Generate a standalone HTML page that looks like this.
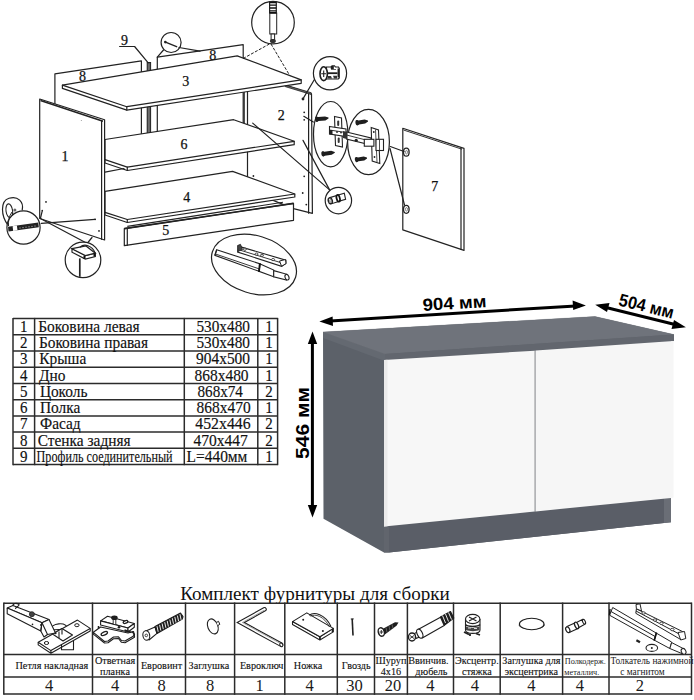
<!DOCTYPE html>
<html><head><meta charset="utf-8">
<style>
html,body{margin:0;padding:0;background:#fff;width:694px;height:700px;overflow:hidden}
svg{position:absolute;left:0;top:0}
.tl{stroke:#2b2b2b;stroke-width:1.5}
.ts{font-family:"Liberation Serif",serif;font-size:15px;fill:#111;stroke:#111;stroke-width:0.15}
.tn{font-family:"Liberation Serif",serif;font-size:15.4px;fill:#111;stroke:#111;stroke-width:0.15}
.tb{font-family:"Liberation Serif",serif;font-size:10.2px;fill:#111;stroke:#111;stroke-width:0.12}
.tl1{font-family:"Liberation Serif",serif;font-size:8.2px;fill:#1a1a1a}
.tl2{font-family:"Liberation Serif",serif;font-size:9.3px;fill:#1a1a1a}
.tq{font-family:"Liberation Serif",serif;font-size:16.5px;fill:#1a1a1a}
.dim{font-family:"Liberation Sans",sans-serif;font-weight:bold;font-size:17.5px;fill:#000}
.d{stroke:#222;stroke-width:1.2;fill:none;stroke-linejoin:round;stroke-linecap:round}
.df{stroke:#222;stroke-width:1.2;fill:#fff;stroke-linejoin:round}
.lab{font-family:"Liberation Serif",serif;font-size:14px;fill:#111;stroke:#111;stroke-width:0.25}
</style></head><body>
<svg width="694" height="700" viewBox="0 0 694 700">
<g id="diagram">
<!-- back panel 8 left -->
<polygon fill="#fff" points="54.9,73.9 141.4,60.9 141.4,134 54.9,140"/><polyline class="d" points="54.9,140 54.9,73.9 141.4,60.9 141.4,134"/>
<!-- back panel 8 right -->
<polygon fill="#fff" points="157.3,57.2 243.2,44.6 243.2,130 157.3,132"/><polyline class="d" points="157.3,132 157.3,57.2 243.2,44.6 243.2,130"/>
<!-- profile 9 -->
<rect x="147.2" y="62.5" width="3.4" height="71" fill="#555" stroke="#222" stroke-width="1"/>
<line x1="148.9" y1="64" x2="148.9" y2="133" stroke="#999" stroke-width="0.6"/>
<!-- label 9 leader -->
<polyline class="d" points="119.6,46.5 134.6,46.5 148,62.6"/>
<!-- nail circle -->
<circle class="df" cx="171.1" cy="42.5" r="10"/>
<line x1="165.5" y1="42.2" x2="177.2" y2="46.8" stroke="#222" stroke-width="1.4"/><circle cx="165.3" cy="42.1" r="1.3" fill="#222"/>
<line x1="163.5" y1="50" x2="157.3" y2="57.2" class="d"/>
<line x1="179" y1="47.5" x2="200" y2="51.2" class="d"/>
<!-- panel 2 (right side) -->
<polygon class="df" points="247.5,70 286.5,85.6 311.5,93.7 312.4,213.3 293.5,208.6 247.5,190"/>
<path d="M285.4,85 L311.2,92.7 L311.2,94.5 L285.2,86.6 Z" fill="#666" stroke="#222" stroke-width="0.8"/>
<polyline class="d" points="308.6,94 308.6,213.2"/>
<line x1="244.2" y1="86" x2="244.2" y2="123" class="d"/>
<!-- top board 3 -->
<polygon class="df" points="62.4,85.1 237.2,55.9 301.2,79.9 301.2,83.3 126.8,110.1 62.4,88.4"/>
<polyline class="d" points="62.4,85.1 126.8,106.7 301.2,79.9"/>
<line x1="126.8" y1="106.7" x2="126.8" y2="110.1" class="d"/>
<!-- shelf 6 -->
<polygon class="df" points="105,139.5 233.7,119.7 294.2,141.3 294.2,144.7 127.3,170.5 105,163"/>
<polyline class="d" points="105,159.6 127.3,167.1 294.2,141.3"/>
<line x1="105" y1="172.1" x2="124" y2="168.5" class="d"/>
<line x1="127.3" y1="167.1" x2="127.3" y2="170.5" class="d"/>
<!-- bottom board 4 -->
<polygon class="df" points="105,191.3 232.6,171.4 294.8,194 294.8,197 127.3,222.5 105,215"/>
<polyline class="d" points="105,212.4 127.3,219.5 294.8,194"/>
<line x1="127.3" y1="219.5" x2="127.3" y2="222.5" class="d"/>
<!-- plinth 5 -->
<polygon class="df" points="124.3,228.6 293.5,203.4 293.5,220.3 124.3,245.7"/>
<line x1="127.3" y1="226.4" x2="283" y2="202.2" stroke="#222" stroke-width="1.1"/>
<line x1="124.3" y1="228.6" x2="293.5" y2="203.4" stroke="#222" stroke-width="1.6"/>
<line x1="127.3" y1="228.3" x2="127.3" y2="245.3" class="d"/>
<!-- panel 1 (left side) -->
<polygon class="df" points="39.7,99 104.6,119.8 104.6,240 39.7,218.5"/>
<line x1="40.5" y1="100.5" x2="103" y2="121.2" stroke="#222" stroke-width="1.6"/>
<line x1="101.6" y1="120.5" x2="101.6" y2="239.3" class="d"/>
<circle cx="46" cy="201.9" r="0.9" fill="#222"/>
<circle cx="95.1" cy="219.3" r="0.9" fill="#222"/>
<circle cx="99" cy="230.9" r="0.9" fill="#222"/>
<circle cx="42.3" cy="210.6" r="0.8" fill="#222"/>
<circle cx="81.3" cy="120.6" r="0.5" fill="#888"/>
<!-- panel 2 dots -->
<circle cx="303" cy="99" r="1.4" fill="#222"/>
<circle cx="304.2" cy="112.3" r="0.9" fill="#222"/>
<circle cx="304.2" cy="119.8" r="0.9" fill="#222"/>
<circle cx="253.4" cy="176" r="0.9" fill="#222"/>
<circle cx="304.2" cy="176.3" r="0.9" fill="#222"/>
<circle cx="302.7" cy="193" r="0.9" fill="#222"/>
<circle cx="306.3" cy="204.6" r="0.9" fill="#222"/>

<!-- rod circle + dashed leaders -->
<line x1="269.4" y1="44" x2="242.6" y2="58.8" stroke="#222" stroke-width="1" stroke-dasharray="3,1.5"/>
<line x1="271" y1="44" x2="290.1" y2="76.1" stroke="#222" stroke-width="1" stroke-dasharray="3,1.5"/>
<circle class="df" cx="273" cy="22.6" r="21.3"/>
<rect x="269.8" y="13" width="6.9" height="21" fill="#fff" stroke="#222" stroke-width="1"/>
<rect x="269.6" y="1.8" width="6.7" height="11.2" fill="#fff" stroke="#222" stroke-width="1.2"/>
<path d="M269.6,2.5 h6.7 M269.6,5.2 h6.7 M269.6,8 h6.7 M269.6,10.8 h6.7 M269.6,12.6 h6.7" stroke="#111" stroke-width="1.3"/>
<rect x="271.1" y="34" width="3.5" height="5.5" fill="#fff" stroke="#222" stroke-width="1"/>
<ellipse cx="272.9" cy="41" rx="3" ry="2.1" fill="#333"/>
<!-- cam circle top -->
<line x1="314.4" y1="79.5" x2="303.1" y2="98.6" class="d"/>
<circle class="df" cx="330" cy="73.3" r="16.6"/>
<path d="M326.5,67 h4.5 l1,-1.2 h2.5 l1,1.2 h3 l0.8,1.5 v9.5 l-1,1 h-11.8 z" fill="#fff" stroke="#1e1e1e" stroke-width="1.1"/>
<rect x="330.8" y="66" width="3" height="3" fill="#1e1e1e"/>
<path d="M338.3,68.5 v9" stroke="#1e1e1e" stroke-width="1.5"/>
<path d="M328,72.3 h9.5 v1.8 h-9.5 z" fill="#1e1e1e"/>
<path d="M328,76 h3 l1,2.5 h-4 z M333,75.8 h4 v2.8 h-3 z" fill="#333"/>
<path d="M331,69.5 h5" stroke="#555" stroke-width="0.9"/>
<ellipse cx="323.7" cy="73.7" rx="3.7" ry="6.9" fill="#fff" stroke="#1e1e1e" stroke-width="1.6"/>
<path d="M321.2,73.7 h5 M323.7,70.5 v6.4" stroke="#1e1e1e" stroke-width="1.1"/>
<!-- hinge leaders -->
<line x1="303.8" y1="116.3" x2="313.3" y2="122" class="d"/>
<!-- hinge ellipse 1 -->
<ellipse class="df" cx="330.7" cy="134.2" rx="17.2" ry="32.7"/>
<path d="M316.9,122.0 L318.6,121.1 L325.4,120.4 L328.5,118.4 L328.5,117.6 L325.0,116.4 L318.2,117.1 L316.3,116.6 Z" fill="#1e1e1e"/><ellipse cx="316.6" cy="119.3" rx="1.6" ry="2.7" fill="#1e1e1e" transform="rotate(-6.2 316.6 119.3)"/>
<path d="M323.2,156.6 L324.9,155.7 L331.7,154.8 L334.9,152.8 L334.7,152.0 L331.2,150.8 L324.4,151.7 L322.6,151.2 Z" fill="#1e1e1e"/><ellipse cx="322.9" cy="153.9" rx="1.6" ry="2.7" fill="#1e1e1e" transform="rotate(-7.2 322.9 153.9)"/>
<path d="M334.5,116.5 L341.5,118 L342.5,147 L335.5,145.5 Z" fill="#fff" stroke="#222" stroke-width="1.1"/>
<rect x="337.2" y="120.5" width="2" height="5.5" rx="1" fill="#333"/>
<rect x="337.7" y="137.5" width="2" height="5.5" rx="1" fill="#333"/>
<path d="M329.5,126.5 L346,129 L346,136.5 L329.5,134 Z" fill="#fff" stroke="#222" stroke-width="1.1"/>
<path d="M329.5,130 L346,132.5" stroke="#222" stroke-width="0.9"/>
<rect x="329.5" y="130" width="3" height="4.5" fill="#222"/>
<circle cx="337" cy="132" r="0.9" fill="#222"/><circle cx="341" cy="132.6" r="0.9" fill="#222"/>
<!-- hinge ellipse 2 -->
<ellipse class="df" cx="368.5" cy="142" rx="20.9" ry="32.7"/>
<path d="M357.4,125.4 L359.1,124.4 L365.2,123.5 L368.1,121.4 L367.9,120.6 L364.6,119.5 L358.5,120.4 L356.6,120.0 Z" fill="#1e1e1e"/><ellipse cx="357.0" cy="122.7" rx="1.6" ry="2.7" fill="#1e1e1e" transform="rotate(-8.8 357.0 122.7)"/>
<path d="M356.8,162.3 L358.5,161.3 L364.3,160.4 L367.1,158.4 L366.9,157.6 L363.7,156.5 L357.9,157.4 L356.0,156.9 Z" fill="#1e1e1e"/><ellipse cx="356.4" cy="159.6" rx="1.6" ry="2.7" fill="#1e1e1e" transform="rotate(-8.6 356.4 159.6)"/>
<path d="M346.5,132 L371,138 L371,145 L346.5,139 Z" fill="#fff" stroke="#222" stroke-width="1.1"/>
<path d="M346.5,135 L371,141.3" stroke="#222" stroke-width="0.9"/>
<path d="M343,131 L347.5,132.2 L347.5,139.2 L343,138 Z" fill="#333"/>
<circle cx="356.2" cy="140.3" r="1.6" fill="#222"/>
<path d="M371.2,127.5 L378.5,130 L379.8,163.4 L372.2,161 Z" fill="#fff" stroke="#222" stroke-width="1.1"/>
<path d="M375.5,129.5 L377,162" stroke="#222" stroke-width="0.8"/>
<circle cx="373.8" cy="132" r="0.9" fill="#222"/><circle cx="374.5" cy="157" r="0.9" fill="#222"/>
<rect x="364.3" y="139.3" width="9.6" height="6.9" fill="#fff" stroke="#222" stroke-width="1.1"/>
<rect x="376" y="139.3" width="7.5" height="11.2" fill="#fff" stroke="#222" stroke-width="1.1"/>
<line x1="379.5" y1="139.5" x2="379.5" y2="150.5" stroke="#222" stroke-width="0.8"/>
<!-- door 7 -->
<polygon class="df" points="402.8,128.3 464,148.4 464,250.4 402.8,229.9"/>
<line x1="403.5" y1="130" x2="462" y2="149.2" stroke="#333" stroke-width="1"/>
<line x1="461" y1="148.5" x2="461" y2="249.5" class="d"/>
<ellipse cx="406.3" cy="152.2" rx="2.8" ry="4" fill="#fff" stroke="#222" stroke-width="1.3"/><ellipse cx="406.5" cy="152.2" rx="1" ry="1.8" fill="none" stroke="#555" stroke-width="0.7"/>
<ellipse cx="406.3" cy="209.3" rx="2.8" ry="4" fill="#fff" stroke="#222" stroke-width="1.3"/><ellipse cx="406.5" cy="209.3" rx="1" ry="1.8" fill="none" stroke="#555" stroke-width="0.7"/>
<!-- leaders to door -->
<line x1="390.3" y1="146.5" x2="404" y2="151.5" class="d"/>
<line x1="390" y1="148.5" x2="404.5" y2="205" class="d"/>
<!-- shelf support circle -->
<line x1="252.7" y1="123.1" x2="329.6" y2="189.9" class="d"/>
<line x1="303" y1="140.4" x2="329.6" y2="189.9" class="d"/>
<circle class="df" cx="338.4" cy="200.6" r="13.2"/>
<path d="M337.5,195.2 L344.3,193.3 L345.6,199.3 L338.8,201.4 Z" fill="#fff" stroke="#222" stroke-width="1.1"/>

<path d="M329.8,197.6 L337.8,195.3 L339.2,201.3 L331,203.9 Z" fill="#fff" stroke="#222" stroke-width="1.1"/>
<ellipse cx="338.2" cy="198.3" rx="1.6" ry="3.4" fill="#fff" stroke="#111" stroke-width="1.8" transform="rotate(-15 338.2 198.3)"/>
<ellipse cx="330.3" cy="200.8" rx="2" ry="3" fill="#fff" stroke="#222" stroke-width="1.4" transform="rotate(-15 330.3 200.8)"/>
<ellipse cx="330.5" cy="200.8" rx="0.8" ry="1.5" fill="none" stroke="#555" stroke-width="0.7"/>
<!-- euro screw circle + loop -->
<path class="d" d="M7.9,225 C1,216 0,201 9,198.3 C18,195.5 24,202 22.2,210"/>
<ellipse cx="9.3" cy="210.8" rx="3.3" ry="7" fill="none" stroke="#222" stroke-width="1.1" transform="rotate(-8 9.3 210.8)"/>
<circle cx="14.9" cy="210" r="1.5" fill="#666"/>
<line x1="41.2" y1="223.3" x2="95.1" y2="219.3" class="d"/>
<line x1="40.4" y1="218.5" x2="86.4" y2="243" class="d"/>
<line x1="42.3" y1="210.6" x2="40.4" y2="218.5" class="d"/>
<circle class="df" cx="23.5" cy="227.5" r="16.6"/>
<path d="M12,212 C9,216 8,222 8.5,226" fill="none" stroke="#222" stroke-width="1"/>
<path d="M8,226.8 L38.3,222.6 L38.8,227.3 L8.5,231.5 z" fill="#222"/>
<path d="M12.6,226.2 L16.9,225.6 L17.5,230.3 L13.2,230.9 z" fill="#fff"/>
<path d="M19,228 h2 M22,227.6 h2 M25,227.2 h2 M28,226.8 h2 M31,226.4 h2 M34,226 h2" stroke="#999" stroke-width="0.7"/>
<!-- foot circle -->
<line x1="92" y1="237.5" x2="87.5" y2="243" class="d"/>
<circle class="df" cx="83" cy="259.9" r="17.8"/>
<path d="M72,248.7 v3.5 L85.3,259 L95.3,256.5 v-3.3 L85.3,255.5 Z" fill="#fff" stroke="#222" stroke-width="1.2"/>
<path d="M72,248.7 L86,246 L95.3,253.2 L85.3,255.5 Z" fill="#fff" stroke="#222" stroke-width="1.2"/>
<path d="M80,247.2 C84,243.5 92,245 95.3,253.2" fill="none" stroke="#222" stroke-width="1.2"/>
<path d="M84.5,256 v3 M94.5,253.5 v3" stroke="#111" stroke-width="2"/>
<line x1="79.8" y1="258.4" x2="79.8" y2="276.8" stroke="#222" stroke-width="1.7"/>
<!-- drawer pusher ellipse -->
<ellipse class="df" cx="254" cy="264.5" rx="43.5" ry="28.8" transform="rotate(17 254 264.5)"/>
<path d="M216.7,249.8 L260.2,263.9 L259,271.3 L214.9,255.3 Z" fill="#fff" stroke="#222" stroke-width="1.1"/>
<path d="M215.5,254 L259.5,269" stroke="#222" stroke-width="0.9"/>
<path d="M214.9,255.3 L216.7,249.8" stroke="#222" stroke-width="1.2"/>
<path d="M260.2,264 L273.7,270 L273.7,276.7 L259,271.3 Z" fill="#fff" stroke="#222" stroke-width="1.1"/>
<path d="M259.8,263.5 L259,271.8" stroke="#111" stroke-width="1.8"/>
<path d="M273.7,270.6 L287,274.3 L286.5,280 L273.7,276.7 Z" fill="#fff" stroke="#222" stroke-width="1.1"/>
<ellipse cx="287" cy="277.2" rx="1.9" ry="2.9" fill="#fff" stroke="#222" stroke-width="1.1" transform="rotate(-20 287 277.2)"/>
<path d="M238.2,246.1 L285.9,260.2 L285.9,263.5 L281.6,266.3 L237.6,252 Z" fill="#fff" stroke="#222" stroke-width="1.1"/>
<path d="M238,249.5 L282,263" stroke="#222" stroke-width="0.9"/>
<path d="M237.6,245.5 L240.5,244.3 L242.5,249.5 L238,251.5 Z" fill="#444" stroke="#222" stroke-width="0.8"/>
<path d="M279.5,261 L285.5,259.5 L286,263.5 L281.6,266.3 Z" fill="#fff" stroke="#222" stroke-width="1"/>
<ellipse cx="244.9" cy="249.2" rx="1.5" ry="1.1" fill="#fff" stroke="#333" stroke-width="0.9"/>
<ellipse cx="256.5" cy="254.1" rx="1.5" ry="1.1" fill="#fff" stroke="#333" stroke-width="0.9"/>
<ellipse cx="262" cy="255.3" rx="1.5" ry="1.1" fill="#fff" stroke="#333" stroke-width="0.9"/>
<ellipse cx="273.1" cy="259.6" rx="1.5" ry="1.1" fill="#fff" stroke="#333" stroke-width="0.9"/>
<!-- labels -->
<g class="lab">
<text x="124.5" y="45" text-anchor="middle">9</text>
<text x="82.5" y="81" text-anchor="middle">8</text>
<text x="212.8" y="60.3" text-anchor="middle">8</text>
<text x="185.8" y="86" text-anchor="middle">3</text>
<text x="281.3" y="119.8" text-anchor="middle">2</text>
<text x="65" y="161.3" text-anchor="middle">1</text>
<text x="183.9" y="148.8" text-anchor="middle">6</text>
<text x="186.8" y="201.7" text-anchor="middle">4</text>
<text x="165.8" y="235" text-anchor="middle">5</text>
<text x="434.8" y="191" text-anchor="middle">7</text>
</g>
</g>

<polygon points="323,332 595,316.5 674,334.6 674,341 671,341.3 671,522.3 389,552.5 384,552.5 323.5,518.8" fill="#5c6169"/>
<polygon points="323,332 385,354 385,361 323.2,338" fill="#646971"/>
<polygon points="323,332 595,316.5 674,334.6 385,354" fill="#6f737b" stroke="#6f737b" stroke-width="0.3"/>
<polygon points="385,354 674,334.6 674,341 385,360.5" fill="#62666e"/>
<polygon points="384,526.6 389,526.3 389,552.5 384,552.5" fill="#61656d"/>
<polygon points="389,526.4 664,498.5 664,523 389,552.5" fill="#5a5e67"/>
<polygon points="664,498.5 671,497.8 671,522.3 664,523" fill="#6a6e76"/>
<polygon points="384,360 534.6,350.7 534.6,511.5 384,526.6" fill="#f7f7f7"/>
<polygon points="384,360 387.5,359.8 387.5,526.2 384,526.6" fill="#ebebeb"/>
<polygon points="535.6,350.6 673.5,341 673.5,497.7 535.6,511.4" fill="#f6f6f6"/>
<line x1="535" y1="350.7" x2="535" y2="511.5" stroke="#d2d2d2" stroke-width="0.9"/>
<line x1="326" y1="321.2" x2="580" y2="305.7" stroke="#000" stroke-width="3"/>
<polygon points="319.4,321.6 332.6,316.6 333,326 " fill="#000"/>
<polygon points="585.9,305.4 572.6,300.6 573.2,310" fill="#000"/>
<line x1="601" y1="306.2" x2="680" y2="325.8" stroke="#000" stroke-width="3"/>
<polygon points="595.2,304.7 609.5,303.1 607,312" fill="#000"/>
<polygon points="685.9,327.2 674,320 671.5,329" fill="#000"/>
<line x1="312.4" y1="338" x2="312.4" y2="511" stroke="#000" stroke-width="3"/>
<polygon points="312.5,331.5 307.8,344 317.2,344" fill="#000"/>
<polygon points="312.5,517.5 307.8,505 317.2,505" fill="#000"/>
<text x="422.5" y="309" class="dim" textLength="64" lengthAdjust="spacingAndGlyphs" transform="rotate(-3.5 454.5 303)">904 мм</text>
<text x="-28" y="0" class="dim" textLength="56" lengthAdjust="spacingAndGlyphs" transform="translate(645 312) rotate(14)">504 мм</text>
<text x="-36" y="0" class="dim" textLength="72" lengthAdjust="spacingAndGlyphs" transform="translate(308.6 423) rotate(-90)">546 мм</text>
<line x1="13" y1="317.90000000000003" x2="13" y2="465.19" class="tl"/>
<line x1="34.6" y1="317.90000000000003" x2="34.6" y2="465.19" class="tl"/>
<line x1="184.3" y1="317.90000000000003" x2="184.3" y2="465.19" class="tl"/>
<line x1="257.8" y1="317.90000000000003" x2="257.8" y2="465.19" class="tl"/>
<line x1="277.6" y1="317.90000000000003" x2="277.6" y2="465.19" class="tl"/>
<line x1="13" y1="318.6" x2="277.6" y2="318.6" class="tl"/>
<line x1="13" y1="334.8" x2="277.6" y2="334.8" class="tl"/>
<line x1="13" y1="351.0" x2="277.6" y2="351.0" class="tl"/>
<line x1="13" y1="367.2" x2="277.6" y2="367.2" class="tl"/>
<line x1="13" y1="383.4" x2="277.6" y2="383.4" class="tl"/>
<line x1="13" y1="399.7" x2="277.6" y2="399.7" class="tl"/>
<line x1="13" y1="415.9" x2="277.6" y2="415.9" class="tl"/>
<line x1="13" y1="432.1" x2="277.6" y2="432.1" class="tl"/>
<line x1="13" y1="448.3" x2="277.6" y2="448.3" class="tl"/>
<line x1="13" y1="464.5" x2="277.6" y2="464.5" class="tl"/>
<g transform="matrix(1,0,0,1.08,0,-26.57)">
<text x="23.8" y="332.1" class="ts" text-anchor="middle">1</text>
<text x="38.2" y="332.1" class="tn" textLength="101.5" lengthAdjust="spacingAndGlyphs">Боковина левая</text>
<text x="196.5" y="332.1" class="ts" textLength="53.4" lengthAdjust="spacingAndGlyphs">530x480</text>
<text x="269.1" y="332.1" class="ts" text-anchor="middle">1</text>
</g>
<g transform="matrix(1,0,0,1.08,0,-27.86)">
<text x="23.8" y="348.3" class="ts" text-anchor="middle">2</text>
<text x="38.9" y="348.3" class="tn">Боковина правая</text>
<text x="196.5" y="348.3" class="ts" textLength="53.4" lengthAdjust="spacingAndGlyphs">530x480</text>
<text x="269.1" y="348.3" class="ts" text-anchor="middle">1</text>
</g>
<g transform="matrix(1,0,0,1.08,0,-29.16)">
<text x="23.8" y="364.5" class="ts" text-anchor="middle">3</text>
<text x="39.3" y="364.5" class="tn">Крыша</text>
<text x="196.1" y="364.5" class="ts" textLength="53.9" lengthAdjust="spacingAndGlyphs">904x500</text>
<text x="269.1" y="364.5" class="ts" text-anchor="middle">1</text>
</g>
<g transform="matrix(1,0,0,1.08,0,-30.46)">
<text x="23.8" y="380.7" class="ts" text-anchor="middle">4</text>
<text x="38.9" y="380.7" class="tn">Дно</text>
<text x="194.5" y="380.7" class="ts" textLength="54.1" lengthAdjust="spacingAndGlyphs">868x480</text>
<text x="269.1" y="380.7" class="ts" text-anchor="middle">1</text>
</g>
<g transform="matrix(1,0,0,1.08,0,-31.76)">
<text x="23.8" y="396.9" class="ts" text-anchor="middle">5</text>
<text x="40" y="396.9" class="tn">Цоколь</text>
<text x="197.5" y="396.9" class="ts" textLength="45.4" lengthAdjust="spacingAndGlyphs">868x74</text>
<text x="269.1" y="396.9" class="ts" text-anchor="middle">2</text>
</g>
<g transform="matrix(1,0,0,1.08,0,-33.05)">
<text x="23.8" y="413.2" class="ts" text-anchor="middle">6</text>
<text x="40" y="413.2" class="tn">Полка</text>
<text x="196.6" y="413.2" class="ts" textLength="54.1" lengthAdjust="spacingAndGlyphs">868x470</text>
<text x="269.1" y="413.2" class="ts" text-anchor="middle">1</text>
</g>
<g transform="matrix(1,0,0,1.08,0,-34.35)">
<text x="23.8" y="429.4" class="ts" text-anchor="middle">7</text>
<text x="40" y="429.4" class="tn">Фасад</text>
<text x="195.3" y="429.4" class="ts" textLength="55.4" lengthAdjust="spacingAndGlyphs">452x446</text>
<text x="269.1" y="429.4" class="ts" text-anchor="middle">2</text>
</g>
<g transform="matrix(1,0,0,1.08,0,-35.65)">
<text x="23.8" y="445.6" class="ts" text-anchor="middle">8</text>
<text x="37.7" y="445.6" class="tn">Стенка задняя</text>
<text x="193.5" y="445.6" class="ts" textLength="54.4" lengthAdjust="spacingAndGlyphs">470x447</text>
<text x="269.1" y="445.6" class="ts" text-anchor="middle">2</text>
</g>
<g transform="matrix(1,0,0,1.08,0,-36.94)">
<text x="23.8" y="461.8" class="ts" text-anchor="middle">9</text>
<text x="36.6" y="461.8" class="tn" textLength="136" lengthAdjust="spacingAndGlyphs">Профиль соединительный</text>
<text x="186.6" y="461.8" class="ts" textLength="60.8" lengthAdjust="spacingAndGlyphs">L=440мм</text>
<text x="269.1" y="461.8" class="ts" text-anchor="middle">1</text>
</g>
<text x="180.3" y="599.6" style="font-family:'Liberation Serif',serif;font-size:19px;fill:#111" textLength="269.5" lengthAdjust="spacingAndGlyphs">Комплект фурнитуры для сборки</text>
<line x1="3.8" y1="602.5" x2="3.8" y2="694.8000000000001" class="tl"/>
<line x1="92.5" y1="602.5" x2="92.5" y2="694.8000000000001" class="tl"/>
<line x1="137.6" y1="602.5" x2="137.6" y2="694.8000000000001" class="tl"/>
<line x1="185.5" y1="602.5" x2="185.5" y2="694.8000000000001" class="tl"/>
<line x1="234.6" y1="602.5" x2="234.6" y2="694.8000000000001" class="tl"/>
<line x1="284.8" y1="602.5" x2="284.8" y2="694.8000000000001" class="tl"/>
<line x1="337.3" y1="602.5" x2="337.3" y2="694.8000000000001" class="tl"/>
<line x1="374.5" y1="602.5" x2="374.5" y2="694.8000000000001" class="tl"/>
<line x1="407.4" y1="602.5" x2="407.4" y2="694.8000000000001" class="tl"/>
<line x1="453.5" y1="602.5" x2="453.5" y2="694.8000000000001" class="tl"/>
<line x1="500.2" y1="602.5" x2="500.2" y2="694.8000000000001" class="tl"/>
<line x1="562.6" y1="602.5" x2="562.6" y2="694.8000000000001" class="tl"/>
<line x1="609" y1="602.5" x2="609" y2="694.8000000000001" class="tl"/>
<line x1="691.5" y1="602.5" x2="691.5" y2="694.8000000000001" class="tl"/>
<line x1="3.8" y1="603.2" x2="691.5" y2="603.2" class="tl"/>
<line x1="3.8" y1="654.4" x2="691.5" y2="654.4" class="tl"/>
<line x1="3.8" y1="676.9" x2="691.5" y2="676.9" class="tl"/>
<line x1="3.8" y1="694.1" x2="691.5" y2="694.1" class="tl"/>
<text x="51.9" y="669.3" class="tb" text-anchor="middle">Петля накладная</text>
<text x="49.1" y="691.3" class="tq" text-anchor="middle">4</text>
<text x="115.0" y="664.2" class="tb" text-anchor="middle">Ответная</text>
<text x="115.0" y="674.8" class="tb" text-anchor="middle">планка</text>
<text x="115.0" y="691.3" class="tq" text-anchor="middle">4</text>
<text x="161.6" y="669.3" class="tb" text-anchor="middle">Евровинт</text>
<text x="161.6" y="691.3" class="tq" text-anchor="middle">8</text>
<text x="208.9" y="669.3" class="tb" text-anchor="middle">Заглушка</text>
<text x="210.1" y="691.3" class="tq" text-anchor="middle">8</text>
<text x="261.7" y="669.3" class="tb" text-anchor="middle">Евроключ</text>
<text x="259.7" y="691.3" class="tq" text-anchor="middle">1</text>
<text x="308.1" y="669.3" class="tb" text-anchor="middle">Ножка</text>
<text x="309.7" y="691.3" class="tq" text-anchor="middle">4</text>
<text x="356.2" y="669.3" class="tb" text-anchor="middle">Гвоздь</text>
<text x="354.5" y="691.3" class="tq" text-anchor="middle">30</text>
<text x="390.9" y="664.2" class="tb" text-anchor="middle">Шуруп</text>
<text x="390.9" y="674.8" class="tb" text-anchor="middle">4x16</text>
<text x="392.9" y="691.3" class="tq" text-anchor="middle">20</text>
<text x="428.4" y="664.2" class="tb" text-anchor="middle">Ввинчив.</text>
<text x="431.4" y="674.8" class="tb" text-anchor="middle">дюбель</text>
<text x="430.4" y="691.3" class="tq" text-anchor="middle">4</text>
<text x="476.9" y="664.2" class="tb" text-anchor="middle">Эксцентр.</text>
<text x="476.9" y="674.8" class="tb" text-anchor="middle">стяжка</text>
<text x="474.9" y="691.3" class="tq" text-anchor="middle">4</text>
<text x="531.4" y="664.2" class="tb" text-anchor="middle">Заглушка для</text>
<text x="531.4" y="674.8" class="tb" text-anchor="middle">эксцентрика</text>
<text x="531.4" y="691.3" class="tq" text-anchor="middle">4</text>
<text x="585.3" y="664.2" class="tl1" text-anchor="middle">Полкодерж.</text>
<text x="581.8" y="674.8" class="tl1" text-anchor="middle">металлич.</text>
<text x="579.9" y="691.3" class="tq" text-anchor="middle">4</text>
<text x="652.0" y="664.2" class="tl2" text-anchor="middle">Толкатель нажимной</text>
<text x="642.5" y="674.8" class="tl2" text-anchor="middle">с магнитом</text>
<text x="639.8" y="691.3" class="tq" text-anchor="middle">2</text>
<g id="icons" stroke-linejoin="round">
<!-- 1 hinge -->
<g fill="#fff" stroke="#1e1e1e" stroke-width="1.1" stroke-linejoin="round">
<path d="M50.5,630 C51,623 66,621 68,629 Z"/>
<path d="M61.5,641 v8.8 h12 v-9"/>
<path d="M38.2,642.3 L77.5,620.1 L90.2,628.4 L50.9,650.6 Z"/>
<path d="M38.2,642.3 v2.6 L50.9,653.2 L90.2,631 v-2.6 M50.9,650.6 v2.6" fill="none"/>
<path d="M52.5,634 L62,628.5 L72.5,635 L63,641 Z"/>
<path d="M59,631.5 v6.5 M62,628.5 v6" fill="none"/>
<path d="M7.2,608.1 L12.9,605.5 L49,619.5 L42,622.7 Z"/>
<path d="M7.2,608.1 L7.2,613.8 L40.8,630.9 L42,622.7 Z"/>
<path d="M42,622.7 L49,619.5 L55.5,633 L47.5,634.5 Z"/>
<path d="M42,622.7 L40.8,630.9 L44,637 L47.5,634.5" fill="none"/>
</g>
<circle cx="31.9" cy="614.2" r="2.5" fill="#444" stroke="#1e1e1e" stroke-width="0.8"/>
<circle cx="32.5" cy="624.4" r="0.8" fill="#1e1e1e"/>
<circle cx="41" cy="625" r="1" fill="#1e1e1e"/><circle cx="55.5" cy="633.2" r="1.1" fill="#1e1e1e"/>
<ellipse cx="46.5" cy="643" rx="2.2" ry="1.5" fill="#fff" stroke="#1e1e1e" stroke-width="1"/>
<ellipse cx="76.9" cy="625.2" rx="2.2" ry="1.5" fill="#fff" stroke="#1e1e1e" stroke-width="1"/>
<path d="M13,605.5 C13,603 17,603 19,604.5 C19.5,606.5 15,607 15.5,609" fill="none" stroke="#1e1e1e" stroke-width="1.2"/>
<!-- 2 mounting plate -->
<g fill="#fff" stroke="#1e1e1e" stroke-width="1.1" stroke-linejoin="round">
<path d="M93.3,632.3 L100.6,627 L128,633 L133.5,631.5 L134.5,635.5 L125,641 L121.5,640.5 L118.5,636.8 L113.5,637 L108,641 L104.5,641.5 Z"/>
<path d="M93.3,632.3 v1.8 L104.5,643 L108,642.8 L113.5,638.7 L118.5,638.5 L121.5,642.3 L125,642.8 L134.5,637.3 v-1.8" fill="none"/>
<path d="M100.6,620.9 L107.5,616.3 L134.3,623.5 L128,628 Z"/>
<path d="M100.6,620.9 L100.6,625 L128,632 L128,628 Z"/>
<path d="M128,628 L134.3,623.5 L134.3,627.3 L128,632 Z"/>
</g>
<ellipse cx="104.3" cy="633.5" rx="3.4" ry="1.6" fill="#fff" stroke="#1e1e1e" stroke-width="1.3" transform="rotate(-25 104.3 633.5)"/>
<ellipse cx="125.5" cy="622" rx="2.4" ry="1.3" fill="#fff" stroke="#1e1e1e" stroke-width="1.3" transform="rotate(-20 125.5 622)"/>
<rect x="113.2" y="618.5" width="2.6" height="6" fill="#fff" stroke="#1e1e1e" stroke-width="0.9"/>
<ellipse cx="114.4" cy="617.8" rx="3.3" ry="2.3" fill="#1e1e1e"/>
<circle cx="119" cy="627.2" r="1.3" fill="#1e1e1e"/>
<path d="M124.5,630 L131.5,632.5" stroke="#1e1e1e" stroke-width="1.8"/>
<path d="M132,631.5 L134.5,634.5 L133,635.5" stroke="#1e1e1e" stroke-width="1.2" fill="none"/>
<path d="M98.5,626 v2.5" stroke="#1e1e1e" stroke-width="1.5"/>
<!-- 3 euro screw -->
<g stroke="#1e1e1e" stroke-width="1.1" fill="#fff" stroke-linejoin="round">
<path d="M147,630.5 L155,627 L157,633.3 L149,640 Z"/>
<path d="M155,626.5 L180.5,613 L183,616.5 L182.3,619 L157,633.5 Z" fill="#1e1e1e"/>
<ellipse cx="146.3" cy="635.4" rx="3.4" ry="4.8" transform="rotate(-10 146.3 635.4)"/>
</g>
<path d="M157.0,626.2 l1.2,5.6 M159.6,624.9 l1.2,5.6 M162.1,623.5 l1.2,5.6 M164.7,622.2 l1.2,5.6 M167.2,620.9 l1.2,5.6 M169.8,619.6 l1.2,5.6 M172.3,618.2 l1.2,5.6 M174.8,616.9 l1.2,5.6 M177.4,615.6 l1.2,5.6 M179.9,614.2 l1.2,5.6" stroke="#fff" stroke-width="0.9"/>
<circle cx="146.3" cy="635.4" r="1.3" fill="none" stroke="#1e1e1e" stroke-width="0.8"/>
<!-- 4 cap -->
<ellipse cx="212.8" cy="626.4" rx="5" ry="7.8" fill="#fff" stroke="#1e1e1e" stroke-width="1.1" transform="rotate(-22 212.8 626.4)"/>
<path d="M216.5,622.5 L218.5,621.3 L219.8,624.3 L217.8,625.6" fill="#fff" stroke="#1e1e1e" stroke-width="1"/>
<!-- 5 hex key -->
<polyline points="264.5,609.3 240.8,622.5 281,644.6" fill="none" stroke="#1e1e1e" stroke-width="4.6" stroke-linejoin="miter" stroke-linecap="round"/>
<polyline points="264.5,609.3 240.8,622.5 281,644.6" fill="none" stroke="#fff" stroke-width="2.4" stroke-linejoin="miter" stroke-linecap="round"/>
<polyline points="264,610.3 242.3,622.5 280.5,643.6" fill="none" stroke="#777" stroke-width="0.6"/>
<ellipse cx="281.3" cy="644.8" rx="1.4" ry="2" fill="#fff" stroke="#1e1e1e" stroke-width="1" transform="rotate(-30 281.3 644.8)"/>
<!-- 6 foot -->
<g fill="#fff" stroke="#1e1e1e" stroke-width="1.1" stroke-linejoin="round">
<path d="M292.5,621.6 L292.5,624.6 L319.9,640 L333.3,631.9 L333.3,628.4 L319.9,636.7 Z"/>
<path d="M319.9,636.7 v3.3" fill="none"/>
<path d="M292.5,621.6 L306.8,612.9 L333.3,628.4 L319.9,636.7 Z"/>
<path d="M309.2,615.3 C314,611.5 325,614 331,626.5" fill="none"/>
<path d="M310.5,616.2 C315,613.5 324,616 329.5,627" fill="none" stroke-width="0.8"/>
</g>
<circle cx="303.2" cy="619.7" r="1" fill="#1e1e1e"/>
<circle cx="322.9" cy="631" r="1" fill="#1e1e1e"/>
<path d="M332.5,629 v3 M319.9,637 v3" stroke="#1e1e1e" stroke-width="1.6"/>
<!-- 7 nail -->
<line x1="352.2" y1="619" x2="353" y2="635.5" stroke="#222" stroke-width="1.6"/>
<line x1="350.8" y1="619" x2="353.6" y2="618.8" stroke="#222" stroke-width="1.2"/>
<!-- 8 screw -->
<path d="M382.5,629 L395,622.2 L398.5,622.5 L396.5,625.8 L384.5,634.8 Z" fill="#1e1e1e"/>
<path d="M386,627.5 l1,5 M389,626 l1,4.8 M392,624.3 l1,4" stroke="#888" stroke-width="0.6"/>
<ellipse cx="381.3" cy="632" rx="3" ry="4.3" fill="#fff" stroke="#1e1e1e" stroke-width="1.4" transform="rotate(-15 381.3 632)"/>
<path d="M379.5,632 h3.6 M381.3,630 v4" stroke="#1e1e1e" stroke-width="0.9"/>
<!-- 9 dowel -->
<g stroke="#1e1e1e" stroke-width="1.1" fill="#fff" stroke-linejoin="round">
<path d="M440.5,617 L450.5,611.5 L453.8,618 L444,625.5 Z" fill="#1e1e1e"/>
<path d="M418.5,629.3 L440.5,617.2 L444.2,625.4 L422.3,638 Z"/>
<path d="M414.5,633.5 L418.5,631.5 L419.5,637 L416,638.5 Z"/>
<ellipse cx="419.8" cy="633.7" rx="2.6" ry="4.8" transform="rotate(-25 419.8 633.7)"/>
<ellipse cx="412" cy="637" rx="3.5" ry="4" stroke-width="1.4"/>
</g>
<path d="M442.5,615.5 l3,7.5 M445.5,614 l3,7.5 M448.5,612.5 l3,7" stroke="#fff" stroke-width="0.9"/>
<path d="M410,635.5 l4,3 M414,635.5 l-4,3" stroke="#1e1e1e" stroke-width="0.9"/>
<!-- 10 cam -->
<g stroke="#222" stroke-width="1.1" fill="#fff">
<path d="M465.5,619 v11 c0,4.5 14.5,4.5 14.5,0 v-11"/>
<ellipse cx="472.7" cy="619" rx="7.2" ry="4.6"/>
</g>
<path d="M469,617 l7.5,4 M476.5,617 l-7.5,4" stroke="#222" stroke-width="1.2"/>
<path d="M465.5,624.5 c2,2.5 12.5,2.5 14.5,0" fill="none" stroke="#222" stroke-width="1.3"/>
<path d="M466,626.5 c3,1.5 10,1.5 13.5,0 v3.5 c-3,1.5 -10,1.5 -13.5,0 z" fill="#444"/><path d="M468,628 h3 M474,628.5 h3" stroke="#fff" stroke-width="0.8"/>
<path d="M464,632 l5,2.5 M476,633.5 l4,1.5 M470,634 v2" stroke="#222" stroke-width="1.8"/>
<!-- 11 cam cap -->
<path d="M519.4,624.2 v1.5 c1,4 23.6,4 24.6,0 v-1.5" fill="#fff" stroke="#1e1e1e" stroke-width="1"/>
<ellipse cx="531.7" cy="624" rx="12.3" ry="5.8" fill="#fff" stroke="#1e1e1e" stroke-width="1.1"/>
<!-- 12 shelf support -->
<g stroke="#1e1e1e" stroke-width="1.1" fill="#fff" stroke-linejoin="round">
<path d="M576.5,622.5 L582.8,619.3 L584.8,624.3 L578.5,627.8 Z"/>
<ellipse cx="584" cy="621.8" rx="1.3" ry="2.5" transform="rotate(-25 584 621.8)"/>
<path d="M567,626.6 L575.8,622.5 L578,628.5 L569.2,632.6 Z"/>
<ellipse cx="576.6" cy="625.4" rx="1.7" ry="3.5" stroke-width="1.3" transform="rotate(-25 576.6 625.4)"/>
<ellipse cx="567.8" cy="629.7" rx="1.9" ry="3" stroke-width="1.2" transform="rotate(-25 567.8 629.7)"/>
</g>
<!-- 13 push latch -->
<g stroke="#222" stroke-width="1" fill="#fff">
<path d="M612.7,607.5 L656.3,633.1 L654.4,640.2 L609.5,615.2 Z"/>
<path d="M611,611.5 L655.3,636.6" fill="none"/>
<path d="M656.3,633.1 L671.7,642.1 L669.8,648.5 L654.4,640.2 Z"/>
<path d="M671.7,642.6 L684.5,649.2 L682,653.6 L669.8,648.5 Z"/>
<ellipse cx="683.6" cy="651.3" rx="2.2" ry="3" transform="rotate(-30 683.6 651.3)"/>
<path d="M636.4,608.8 L683.2,631.9 L680.7,639.5 L635.8,613.3 Z"/>
<path d="M636,611 L682,635.5" fill="none"/>
<path d="M636.4,608.8 L636,604.5 L640,603.8 L641.5,611 Z" fill="#fff"/>
<path d="M678,632.5 L684.5,631.5 L685.8,638.5 L680.7,640 Z" fill="#fff"/>
</g>
<path d="M656.5,632.5 L654.2,640.8" stroke="#111" stroke-width="1.6"/>
<path d="M610,609 L609.5,615.2" stroke="#111" stroke-width="1.4"/>
<ellipse cx="643.5" cy="613" rx="1.8" ry="1.2" fill="#fff" stroke="#333" stroke-width="0.9"/>
<ellipse cx="655" cy="620" rx="1.8" ry="1.2" fill="#fff" stroke="#333" stroke-width="0.9"/>
<ellipse cx="661.4" cy="623.3" rx="1.8" ry="1.2" fill="#fff" stroke="#333" stroke-width="0.9"/>
<ellipse cx="672.3" cy="629.6" rx="1.8" ry="1.2" fill="#fff" stroke="#333" stroke-width="0.9"/>
<line x1="636.4" y1="640.2" x2="640" y2="642.2" stroke="#222" stroke-width="2.2"/>
<ellipse cx="651.8" cy="647.9" rx="5.8" ry="3.5" fill="#fff" stroke="#222" stroke-width="1.1"/>
<circle cx="651.8" cy="647.9" r="1" fill="#222"/>
</g>

</svg>
</body></html>
